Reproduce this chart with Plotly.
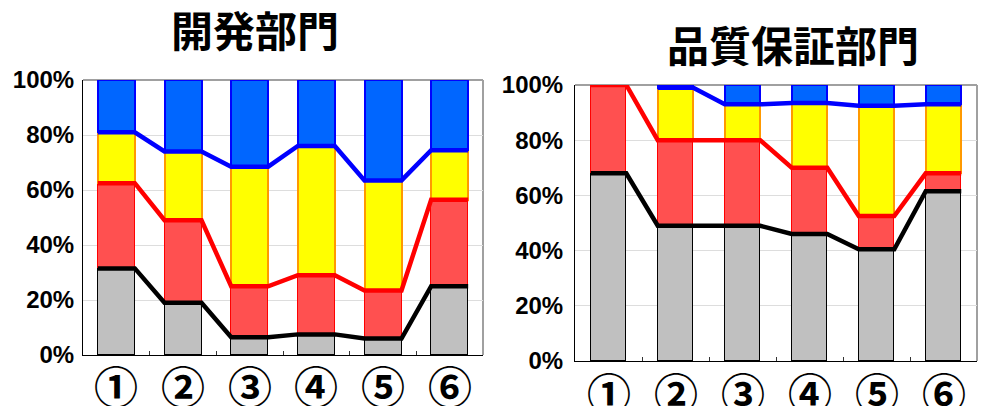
import plotly.graph_objects as go

categories = ["①", "②", "③", "④", "⑤", "⑥"]

# 開発部門 (percent shares, stacked bottom to top)
dev_gray = [31.5, 19.0, 6.5, 7.5, 6.0, 25.0]
dev_red = [31.0, 30.0, 18.5, 21.5, 17.5, 31.5]
dev_yellow = [18.5, 25.0, 43.5, 47.0, 40.0, 18.0]
dev_blue = [19.0, 26.0, 31.5, 24.0, 36.5, 25.5]

# 品質保証部門
qa_gray = [68.0, 49.0, 49.0, 46.0, 40.5, 61.5]
qa_red = [32.0, 31.0, 31.0, 24.0, 12.0, 6.5]
qa_yellow = [0.0, 19.0, 13.0, 23.5, 40.0, 25.0]
qa_blue = [0.0, 1.0, 7.0, 6.5, 7.5, 7.0]
qa_blue_line_visible = [False, True, True, True, True, True]

titles = ["開発部門", "品質保証部門"]
yticks = [0, 20, 40, 60, 80, 100]
ytick_labels = [f"{v}%" for v in yticks]

FILL = {"gray": "#C0C0C0", "red": "#FF5050", "yellow": "#FFFF00", "blue": "#0066FF"}
EDGE = {"gray": "#000000", "red": "#FF0000", "yellow": "#FF9900", "blue": "#0000FF"}
EDGEW = {"gray": 1, "red": 1, "yellow": 2, "blue": 2}
LINEC = {"gray": "#000000", "red": "#FF0000", "blue": "#0000FF"}

fig = go.Figure()

xs = list(range(1, len(categories) + 1))


def add_panel(series, barw, xa, ya, label_shift, blue_vis=None):
    names = ["gray", "red", "yellow", "blue"]
    for name, vals in zip(names, series):
        fig.add_trace(go.Bar(
            x=xs, y=vals, width=barw,
            marker=dict(color=FILL[name], line=dict(color=EDGE[name], width=EDGEW[name])),
            xaxis=xa, yaxis=ya, showlegend=False, hoverinfo="skip"))
    cum = [0.0] * len(xs)
    tops = {}
    for name, vals in zip(names, series):
        cum = [c + v for c, v in zip(cum, vals)]
        tops[name] = list(cum)
    h = barw / 2
    for key, linename in [("gray", "gray"), ("red", "red"), ("yellow", "blue")]:
        lx, ly = [], []
        for i, x in enumerate(xs):
            v = tops[key][i]
            if linename == "blue" and blue_vis is not None and not blue_vis[i]:
                v = None
            lx += [x - h, x + h]
            ly += [v, v]
        fig.add_trace(go.Scatter(
            x=lx, y=ly, mode="lines",
            line=dict(color=LINEC[linename], width=4.5),
            xaxis=xa, yaxis=ya, showlegend=False, hoverinfo="skip",
            connectgaps=False))
    # category labels under the axis
    for x, lab in zip(xs, categories):
        fig.add_annotation(text=lab, x=x, y=0, xref=xa, yref=ya + " domain",
                           yshift=label_shift, showarrow=False, xanchor="center",
                           yanchor="middle",
                           font=dict(family="Noto Sans CJK JP", size=44, color="#000000",
                                     weight=700))


add_panel([dev_gray, dev_red, dev_yellow, dev_blue], 0.555, "x", "y", -30)
add_panel([qa_gray, qa_red, qa_yellow, qa_blue], 0.53, "x2", "y2", -31, qa_blue_line_visible)

W, H = 981, 406
dom = {
    "1": dict(x=[83 / W, 483 / W], y=[(H - 355) / H, (H - 80) / H]),
    "2": dict(x=[575 / W, 977 / W], y=[(H - 361) / H, (H - 85) / H]),
}

xcommon = dict(
    range=[0.5, 6.5], tickmode="array", tickvals=xs, showticklabels=False,
    showline=True, linecolor="#000000", linewidth=1, ticks="", automargin=False,
    showgrid=False, zeroline=False, fixedrange=True,
    minor=dict(tickmode="array", tickvals=[1.5, 2.5, 3.5, 4.5, 5.5],
               ticks="inside", ticklen=4, tickcolor="#333333", tickwidth=1, showgrid=False),
)
ycommon = dict(
    range=[0, 100], tickmode="array", tickvals=yticks, ticktext=ytick_labels,
    showline=True, linecolor="#000000", linewidth=1, ticks="", automargin=False,
    tickfont=dict(family="Liberation Sans", size=24, color="#000000", weight=700),
    showgrid=True, gridcolor="#DDDDDD", gridwidth=1, zeroline=False, fixedrange=True,
)

fig.update_layout(
    width=W, height=H, margin=dict(l=0, r=0, t=0, b=0, autoexpand=False),
    paper_bgcolor="white", plot_bgcolor="white", barmode="stack", bargap=0,
    xaxis=dict(domain=dom["1"]["x"], anchor="y", **xcommon),
    yaxis=dict(domain=dom["1"]["y"], anchor="x", ticklabelstandoff=3, **ycommon),
    xaxis2=dict(domain=dom["2"]["x"], anchor="y2", **xcommon),
    yaxis2=dict(domain=dom["2"]["y"], anchor="x2", ticklabelstandoff=6, **ycommon),
)

for xr, yr in [("x domain", "y domain"), ("x2 domain", "y2 domain")]:
    fig.add_shape(type="line", xref=xr, yref=yr, x0=0, x1=1, y0=1, y1=1,
                  line=dict(color="#A0A0A0", width=2), layer="below")
    fig.add_shape(type="line", xref=xr, yref=yr, x0=1, x1=1, y0=0, y1=1,
                  line=dict(color="#A0A0A0", width=2), layer="below")

fig.add_annotation(text="<b>" + titles[0] + "</b>", x=255 / W, y=1 - 28 / H,
                   xref="paper", yref="paper", showarrow=False,
                   font=dict(family="Noto Sans CJK JP", size=42, color="#000000"),
                   xanchor="center", yanchor="middle")
fig.add_annotation(text="<b>" + titles[1] + "</b>", x=793 / W, y=1 - 44 / H,
                   xref="paper", yref="paper", showarrow=False,
                   font=dict(family="Noto Sans CJK JP", size=42, color="#000000"),
                   xanchor="center", yanchor="middle")

fig.write_html("out.html")
